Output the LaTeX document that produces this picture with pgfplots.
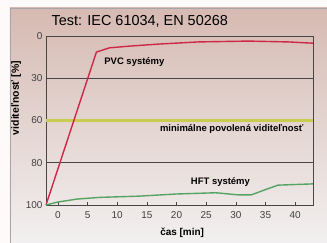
\documentclass[border=0pt]{standalone}
\usepackage{fontspec}
\setmainfont{Liberation Sans}
\usepackage{pgfplots}
\pgfplotsset{compat=1.18}
\definecolor{pvcred}{RGB}{206,40,72}
\definecolor{hftgreen}{RGB}{86,164,100}
\definecolor{minyellow}{RGB}{200,204,80}
\definecolor{bgtop}{RGB}{214,186,178}
\definecolor{bgmid}{RGB}{222,212,208}
\definecolor{bgbot}{RGB}{242,240,240}
\definecolor{framegray}{RGB}{70,70,70}
\begin{document}
\begin{tikzpicture}
\path[use as bounding box] (-46bp,-38bp) rectangle (281bp,205bp);
\fill[white!92!pink] (-46bp,-38bp) rectangle (281bp,205bp);
\shade[top color=bgtop, middle color=bgmid, bottom color=bgbot] (-36bp,-38bp) rectangle (281bp,197bp);
\draw[gray!70, line width=0.8bp] (-36bp,-38bp) -- (-36bp,197bp) -- (281bp,197bp);
\begin{axis}[
  at={(0,0)}, anchor=south west,
  scale only axis, width=267bp, height=169bp,
  xmin=-2, xmax=43, ymin=0, ymax=4,
  y dir=reverse,
  axis line style={framegray, line width=0.7bp},
  xtick={0,5,...,40},
  xtick pos=left,
  xtick align=inside,
  major tick length=3bp,
  tick style={framegray, line width=0.6bp},
  ytick={0,1,2,3,4},
  yticklabels={0,30,60,80,100},
  ytick style={draw=none},
  /pgf/number format/assume math mode=true,
  ticklabel style={font=\fontsize{10}{12}\selectfont, text=black!75},
  xticklabel style={yshift=-3bp},
  xlabel={\textbf{čas [min]}},
  ylabel={\textbf{viditeľnosť [\%]}},
  every axis x label/.style={at={(axis description cs:0.51,-0.165)}, anchor=center, font=\fontsize{10}{12}\selectfont},
  every axis y label/.style={at={(axis description cs:-0.112,0.633)}, anchor=center, rotate=90, font=\fontsize{10.5}{12}\selectfont},
  title={Test: IEC 61034, EN 50268},
  title style={at={(axis description cs:0.0075,1.0)}, anchor=base west, yshift=5bp, font=\fontsize{14.5}{16}\selectfont},
  clip=false,
]
\addplot[framegray, line width=0.6bp] coordinates {(-2,1) (43,1)};
\addplot[framegray, line width=0.6bp] coordinates {(-2,3) (43,3)};
\addplot[minyellow, line width=2.5bp] coordinates {(-2,2) (43,2)};
\addplot[pvcred, line width=1.4bp] coordinates {
(-2,4) (6.5,0.38) (8.7,0.28) (12.0,0.24) (17.1,0.19) (23.7,0.14) (32.1,0.12) (38.8,0.14) (43,0.17)};
\addplot[hftgreen, line width=1.4bp] coordinates {
(-2,4) (0,3.93) (3.2,3.86) (7.0,3.82) (13.7,3.79) (19.9,3.74) (26.6,3.71) (30.4,3.76) (32.6,3.76) (34.9,3.64) (37.1,3.53) (43,3.50)};
\node[font=\bfseries\fontsize{9.5}{11}\selectfont] at (axis cs:12.9,0.62) {PVC systémy};
\node[font=\bfseries\fontsize{9.5}{11}\selectfont] at (axis cs:29.3,2.2) {minimálne povolená viditeľnosť};
\node[font=\bfseries\fontsize{9.5}{11}\selectfont] at (axis cs:27.4,3.46) {HFT systémy};
\end{axis}
\end{tikzpicture}
\end{document}
